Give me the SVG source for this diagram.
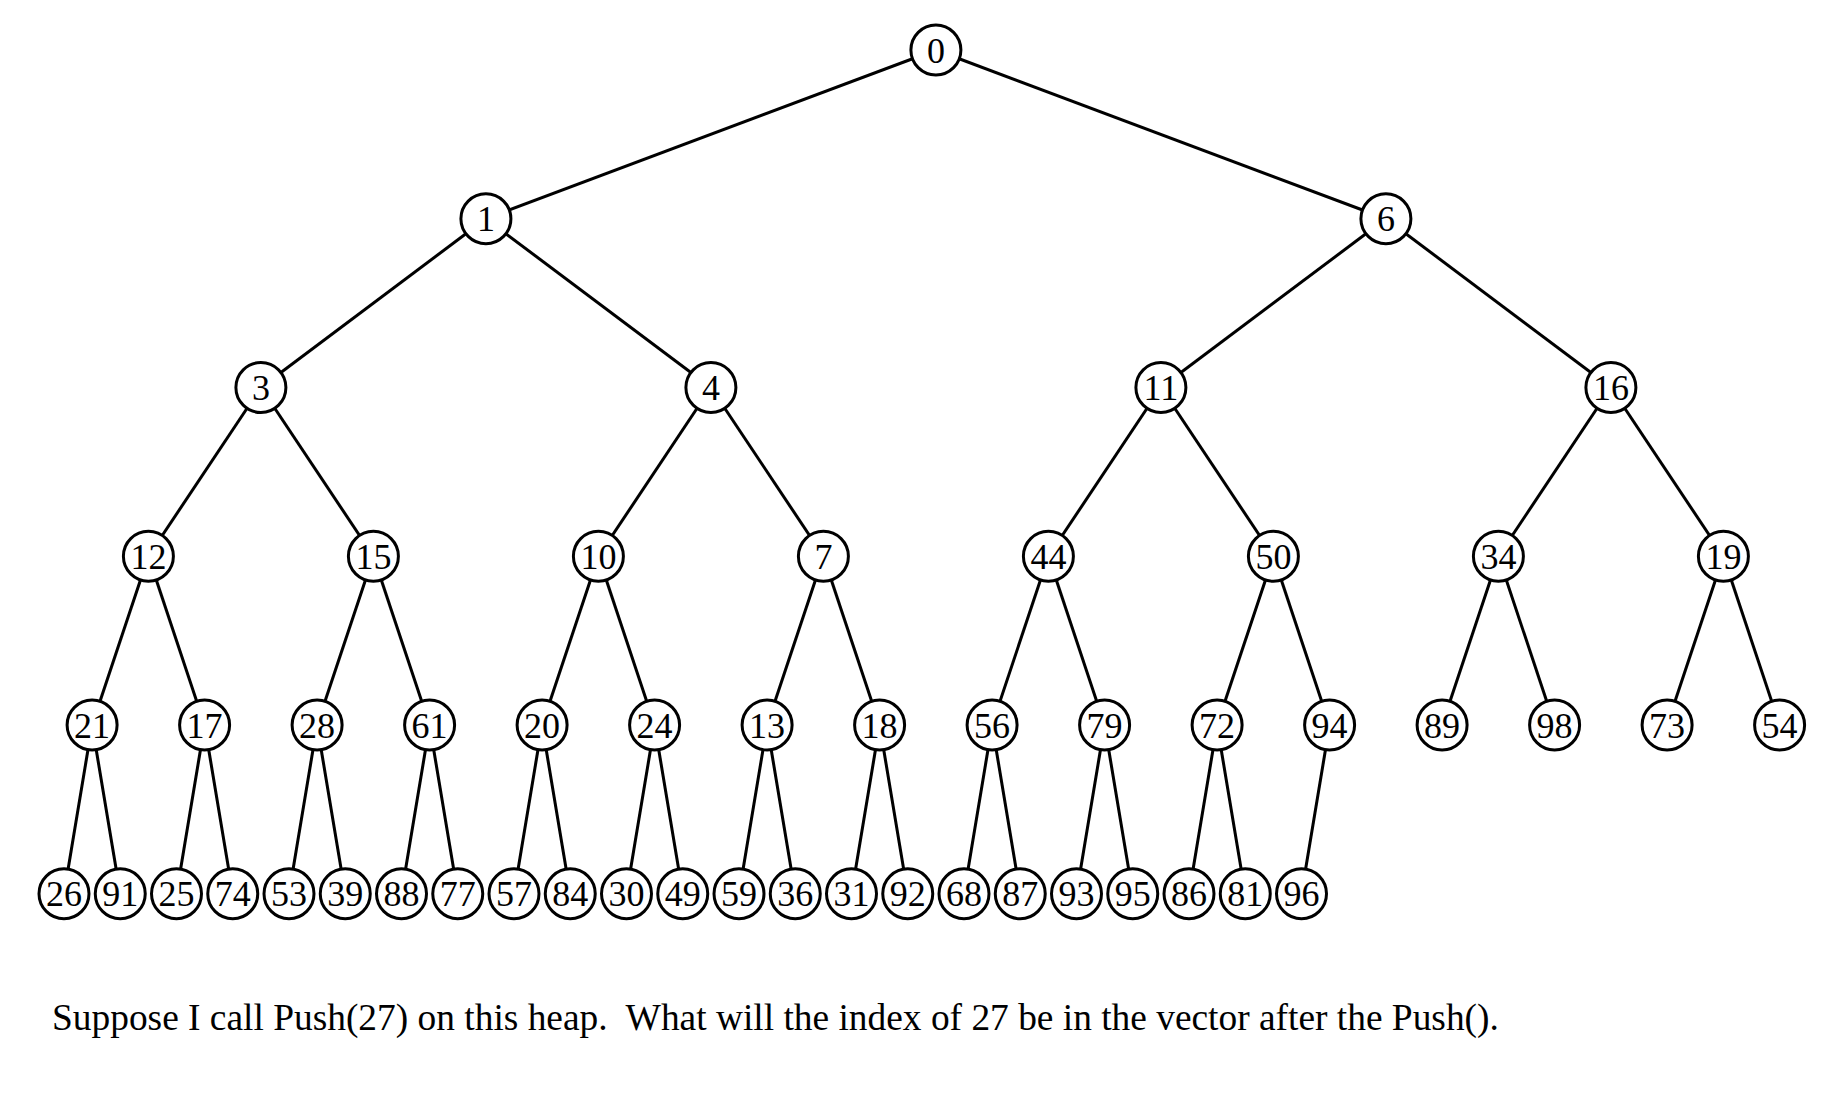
<svg xmlns="http://www.w3.org/2000/svg" width="1836" height="1100" viewBox="0 0 1836 1100">
<style>
.e{stroke:#000;stroke-width:3;fill:none}
.n circle{fill:#fff;stroke:#000;stroke-width:3}
.n text{font-family:"Liberation Serif","Times New Roman",serif;font-size:36px;text-anchor:middle;fill:#000}
.cap{font-family:"Liberation Serif","Times New Roman",serif;font-size:37.4px;fill:#000}
</style>
<rect width="1836" height="1100" fill="#fff"/>
<g id="connectors">
<line class="e" x1="935.9" y1="50" x2="485.9" y2="218.75"/>
<line class="e" x1="935.9" y1="50" x2="1385.9" y2="218.75"/>
<line class="e" x1="485.9" y1="218.75" x2="260.9" y2="387.5"/>
<line class="e" x1="485.9" y1="218.75" x2="710.9" y2="387.5"/>
<line class="e" x1="1385.9" y1="218.75" x2="1160.9" y2="387.5"/>
<line class="e" x1="1385.9" y1="218.75" x2="1610.9" y2="387.5"/>
<line class="e" x1="260.9" y1="387.5" x2="148.4" y2="556.25"/>
<line class="e" x1="260.9" y1="387.5" x2="373.4" y2="556.25"/>
<line class="e" x1="710.9" y1="387.5" x2="598.4" y2="556.25"/>
<line class="e" x1="710.9" y1="387.5" x2="823.4" y2="556.25"/>
<line class="e" x1="1160.9" y1="387.5" x2="1048.4" y2="556.25"/>
<line class="e" x1="1160.9" y1="387.5" x2="1273.4" y2="556.25"/>
<line class="e" x1="1610.9" y1="387.5" x2="1498.4" y2="556.25"/>
<line class="e" x1="1610.9" y1="387.5" x2="1723.4" y2="556.25"/>
<line class="e" x1="148.4" y1="556.25" x2="92.1" y2="725"/>
<line class="e" x1="148.4" y1="556.25" x2="204.6" y2="725"/>
<line class="e" x1="373.4" y1="556.25" x2="317.1" y2="725"/>
<line class="e" x1="373.4" y1="556.25" x2="429.6" y2="725"/>
<line class="e" x1="598.4" y1="556.25" x2="542.1" y2="725"/>
<line class="e" x1="598.4" y1="556.25" x2="654.6" y2="725"/>
<line class="e" x1="823.4" y1="556.25" x2="767.1" y2="725"/>
<line class="e" x1="823.4" y1="556.25" x2="879.6" y2="725"/>
<line class="e" x1="1048.4" y1="556.25" x2="992.1" y2="725"/>
<line class="e" x1="1048.4" y1="556.25" x2="1104.6" y2="725"/>
<line class="e" x1="1273.4" y1="556.25" x2="1217.1" y2="725"/>
<line class="e" x1="1273.4" y1="556.25" x2="1329.6" y2="725"/>
<line class="e" x1="1498.4" y1="556.25" x2="1442.1" y2="725"/>
<line class="e" x1="1498.4" y1="556.25" x2="1554.6" y2="725"/>
<line class="e" x1="1723.4" y1="556.25" x2="1667.1" y2="725"/>
<line class="e" x1="1723.4" y1="556.25" x2="1779.6" y2="725"/>
<line class="e" x1="92.1" y1="725" x2="64" y2="893.75"/>
<line class="e" x1="92.1" y1="725" x2="120.25" y2="893.75"/>
<line class="e" x1="204.6" y1="725" x2="176.5" y2="893.75"/>
<line class="e" x1="204.6" y1="725" x2="232.75" y2="893.75"/>
<line class="e" x1="317.1" y1="725" x2="289" y2="893.75"/>
<line class="e" x1="317.1" y1="725" x2="345.25" y2="893.75"/>
<line class="e" x1="429.6" y1="725" x2="401.5" y2="893.75"/>
<line class="e" x1="429.6" y1="725" x2="457.75" y2="893.75"/>
<line class="e" x1="542.1" y1="725" x2="514" y2="893.75"/>
<line class="e" x1="542.1" y1="725" x2="570.25" y2="893.75"/>
<line class="e" x1="654.6" y1="725" x2="626.5" y2="893.75"/>
<line class="e" x1="654.6" y1="725" x2="682.75" y2="893.75"/>
<line class="e" x1="767.1" y1="725" x2="739" y2="893.75"/>
<line class="e" x1="767.1" y1="725" x2="795.25" y2="893.75"/>
<line class="e" x1="879.6" y1="725" x2="851.5" y2="893.75"/>
<line class="e" x1="879.6" y1="725" x2="907.75" y2="893.75"/>
<line class="e" x1="992.1" y1="725" x2="964" y2="893.75"/>
<line class="e" x1="992.1" y1="725" x2="1020.25" y2="893.75"/>
<line class="e" x1="1104.6" y1="725" x2="1076.5" y2="893.75"/>
<line class="e" x1="1104.6" y1="725" x2="1132.75" y2="893.75"/>
<line class="e" x1="1217.1" y1="725" x2="1189" y2="893.75"/>
<line class="e" x1="1217.1" y1="725" x2="1245.25" y2="893.75"/>
<line class="e" x1="1329.6" y1="725" x2="1301.5" y2="893.75"/>
</g>
<g id="nodes">
<g id="n0" class="n"><circle cx="935.9" cy="50" r="25"/><text x="935.9" y="62.5">0</text></g>
<g id="n1" class="n"><circle cx="485.9" cy="218.75" r="25"/><text x="485.9" y="231.25">1</text></g>
<g id="n2" class="n"><circle cx="1385.9" cy="218.75" r="25"/><text x="1385.9" y="231.25">6</text></g>
<g id="n3" class="n"><circle cx="260.9" cy="387.5" r="25"/><text x="260.9" y="400">3</text></g>
<g id="n4" class="n"><circle cx="710.9" cy="387.5" r="25"/><text x="710.9" y="400">4</text></g>
<g id="n5" class="n"><circle cx="1160.9" cy="387.5" r="25"/><text x="1160.9" y="400">11</text></g>
<g id="n6" class="n"><circle cx="1610.9" cy="387.5" r="25"/><text x="1610.9" y="400">16</text></g>
<g id="n7" class="n"><circle cx="148.4" cy="556.25" r="25"/><text x="148.4" y="568.75">12</text></g>
<g id="n8" class="n"><circle cx="373.4" cy="556.25" r="25"/><text x="373.4" y="568.75">15</text></g>
<g id="n9" class="n"><circle cx="598.4" cy="556.25" r="25"/><text x="598.4" y="568.75">10</text></g>
<g id="n10" class="n"><circle cx="823.4" cy="556.25" r="25"/><text x="823.4" y="568.75">7</text></g>
<g id="n11" class="n"><circle cx="1048.4" cy="556.25" r="25"/><text x="1048.4" y="568.75">44</text></g>
<g id="n12" class="n"><circle cx="1273.4" cy="556.25" r="25"/><text x="1273.4" y="568.75">50</text></g>
<g id="n13" class="n"><circle cx="1498.4" cy="556.25" r="25"/><text x="1498.4" y="568.75">34</text></g>
<g id="n14" class="n"><circle cx="1723.4" cy="556.25" r="25"/><text x="1723.4" y="568.75">19</text></g>
<g id="n15" class="n"><circle cx="92.1" cy="725" r="25"/><text x="92.1" y="737.5">21</text></g>
<g id="n16" class="n"><circle cx="204.6" cy="725" r="25"/><text x="204.6" y="737.5">17</text></g>
<g id="n17" class="n"><circle cx="317.1" cy="725" r="25"/><text x="317.1" y="737.5">28</text></g>
<g id="n18" class="n"><circle cx="429.6" cy="725" r="25"/><text x="429.6" y="737.5">61</text></g>
<g id="n19" class="n"><circle cx="542.1" cy="725" r="25"/><text x="542.1" y="737.5">20</text></g>
<g id="n20" class="n"><circle cx="654.6" cy="725" r="25"/><text x="654.6" y="737.5">24</text></g>
<g id="n21" class="n"><circle cx="767.1" cy="725" r="25"/><text x="767.1" y="737.5">13</text></g>
<g id="n22" class="n"><circle cx="879.6" cy="725" r="25"/><text x="879.6" y="737.5">18</text></g>
<g id="n23" class="n"><circle cx="992.1" cy="725" r="25"/><text x="992.1" y="737.5">56</text></g>
<g id="n24" class="n"><circle cx="1104.6" cy="725" r="25"/><text x="1104.6" y="737.5">79</text></g>
<g id="n25" class="n"><circle cx="1217.1" cy="725" r="25"/><text x="1217.1" y="737.5">72</text></g>
<g id="n26" class="n"><circle cx="1329.6" cy="725" r="25"/><text x="1329.6" y="737.5">94</text></g>
<g id="n27" class="n"><circle cx="1442.1" cy="725" r="25"/><text x="1442.1" y="737.5">89</text></g>
<g id="n28" class="n"><circle cx="1554.6" cy="725" r="25"/><text x="1554.6" y="737.5">98</text></g>
<g id="n29" class="n"><circle cx="1667.1" cy="725" r="25"/><text x="1667.1" y="737.5">73</text></g>
<g id="n30" class="n"><circle cx="1779.6" cy="725" r="25"/><text x="1779.6" y="737.5">54</text></g>
<g id="n31" class="n"><circle cx="64" cy="893.75" r="25"/><text x="64" y="906.25">26</text></g>
<g id="n32" class="n"><circle cx="120.25" cy="893.75" r="25"/><text x="120.25" y="906.25">91</text></g>
<g id="n33" class="n"><circle cx="176.5" cy="893.75" r="25"/><text x="176.5" y="906.25">25</text></g>
<g id="n34" class="n"><circle cx="232.75" cy="893.75" r="25"/><text x="232.75" y="906.25">74</text></g>
<g id="n35" class="n"><circle cx="289" cy="893.75" r="25"/><text x="289" y="906.25">53</text></g>
<g id="n36" class="n"><circle cx="345.25" cy="893.75" r="25"/><text x="345.25" y="906.25">39</text></g>
<g id="n37" class="n"><circle cx="401.5" cy="893.75" r="25"/><text x="401.5" y="906.25">88</text></g>
<g id="n38" class="n"><circle cx="457.75" cy="893.75" r="25"/><text x="457.75" y="906.25">77</text></g>
<g id="n39" class="n"><circle cx="514" cy="893.75" r="25"/><text x="514" y="906.25">57</text></g>
<g id="n40" class="n"><circle cx="570.25" cy="893.75" r="25"/><text x="570.25" y="906.25">84</text></g>
<g id="n41" class="n"><circle cx="626.5" cy="893.75" r="25"/><text x="626.5" y="906.25">30</text></g>
<g id="n42" class="n"><circle cx="682.75" cy="893.75" r="25"/><text x="682.75" y="906.25">49</text></g>
<g id="n43" class="n"><circle cx="739" cy="893.75" r="25"/><text x="739" y="906.25">59</text></g>
<g id="n44" class="n"><circle cx="795.25" cy="893.75" r="25"/><text x="795.25" y="906.25">36</text></g>
<g id="n45" class="n"><circle cx="851.5" cy="893.75" r="25"/><text x="851.5" y="906.25">31</text></g>
<g id="n46" class="n"><circle cx="907.75" cy="893.75" r="25"/><text x="907.75" y="906.25">92</text></g>
<g id="n47" class="n"><circle cx="964" cy="893.75" r="25"/><text x="964" y="906.25">68</text></g>
<g id="n48" class="n"><circle cx="1020.25" cy="893.75" r="25"/><text x="1020.25" y="906.25">87</text></g>
<g id="n49" class="n"><circle cx="1076.5" cy="893.75" r="25"/><text x="1076.5" y="906.25">93</text></g>
<g id="n50" class="n"><circle cx="1132.75" cy="893.75" r="25"/><text x="1132.75" y="906.25">95</text></g>
<g id="n51" class="n"><circle cx="1189" cy="893.75" r="25"/><text x="1189" y="906.25">86</text></g>
<g id="n52" class="n"><circle cx="1245.25" cy="893.75" r="25"/><text x="1245.25" y="906.25">81</text></g>
<g id="n53" class="n"><circle cx="1301.5" cy="893.75" r="25"/><text x="1301.5" y="906.25">96</text></g>
</g>
<text class="cap" x="52" y="1030" xml:space="preserve">Suppose I call Push(27) on this heap.  What will the index of 27 be in the vector after the Push().</text>
</svg>
